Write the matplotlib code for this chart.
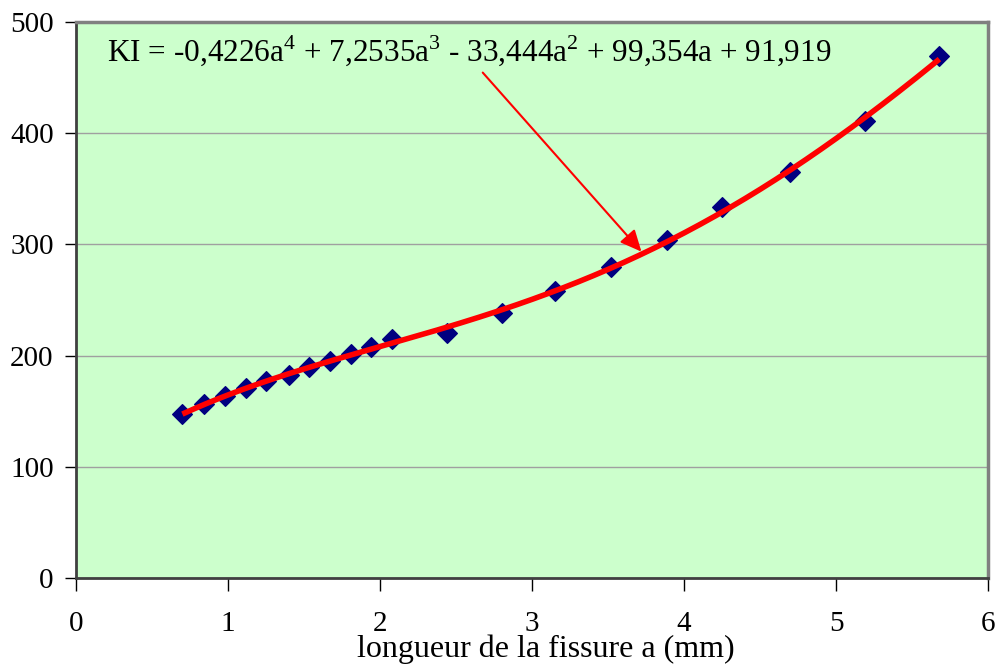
import matplotlib

matplotlib.use("Agg")
import matplotlib.pyplot as plt
import numpy as np

# crack length a (mm) and stress intensity factor KI
crack_a = [0.70, 0.84, 0.98, 1.12, 1.25, 1.40, 1.53, 1.67, 1.81, 1.94, 2.08,
           2.44, 2.80, 3.15, 3.52, 3.89, 4.25, 4.70, 5.19, 5.68]
ki = [147.5, 156.5, 163.5, 171.0, 177.0, 183.0, 189.5, 195.5, 201.5, 208.0,
      215.0, 220.5, 238.5, 258.0, 279.5, 304.0, 334.0, 365.0, 411.0, 469.0]

# 4th order trend line, as printed in the chart
trend_coefs = [-0.4226, 7.2535, -33.444, 99.354, 91.919]

x_ticks = [0, 1, 2, 3, 4, 5, 6]
y_ticks = [0, 100, 200, 300, 400, 500]

plt.rcParams["font.family"] = ["Liberation Serif", "DejaVu Serif"]
plt.rcParams["mathtext.fontset"] = "custom"
plt.rcParams["mathtext.rm"] = "Liberation Serif"

fig = plt.figure(figsize=(9.97, 6.66), dpi=100)
ax = fig.add_axes([0.0762, 0.132, 0.9148, 0.835])
ax.set_facecolor("#ccffcc")

ax.grid(axis="y", color="#a0a0a0", linewidth=1.0)
ax.set_axisbelow(True)

ax.scatter(crack_a, ki, marker="D", s=100, color="#000080", zorder=3)

xs = np.linspace(min(crack_a), max(crack_a), 200)
ax.plot(xs, np.polyval(trend_coefs, xs), color="#ff0000", linewidth=4,
        zorder=4, solid_capstyle="butt")

ax.annotate("", xy=(3.72, 293.5), xytext=(2.676, 454.5),
            arrowprops=dict(arrowstyle="-|>,head_length=1.3,head_width=0.6",
                            color="#ff0000", linewidth=1.5, shrinkA=0, shrinkB=0),
            zorder=5)
ax.text(0.205, 465, r"KI = -0,4226a$^4$ + 7,2535a$^3$ - 33,444a$^2$ + 99,354a + 91,919",
        fontsize=22.5, va="baseline", ha="left", zorder=6)

ax.set_xlim(0, 6)
ax.set_ylim(0, 500)
ax.set_xticks(x_ticks)
ax.set_yticks(y_ticks)
ax.tick_params(axis="x", direction="out", length=9, width=1, pad=15,
               labelsize=21)
ax.tick_params(axis="y", direction="out", length=8, width=1, pad=8,
               labelsize=21)

for side in ("left", "bottom"):
    ax.spines[side].set_color("#404040")
    ax.spines[side].set_linewidth(2)
for side in ("top", "right"):
    ax.spines[side].set_color("#808080")
    ax.spines[side].set_linewidth(2.5)

ax.set_xlabel("longueur de la fissure a (mm)", fontsize=23)
ax.xaxis.set_label_coords(0.515, -0.102)
ax.xaxis.label.set_va("top")

fig.savefig("out.png", dpi=100)
